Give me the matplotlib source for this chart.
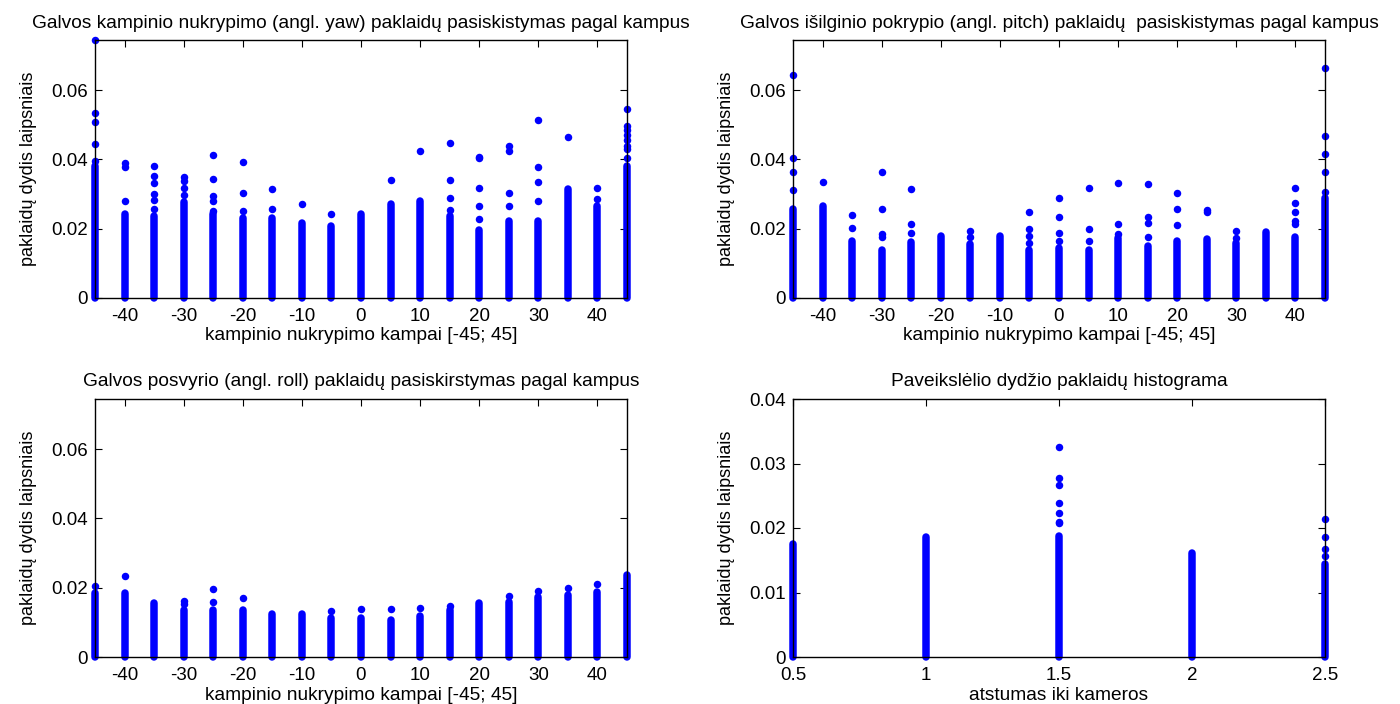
import numpy as np
import matplotlib
matplotlib.use('Agg')
from matplotlib import pyplot as plt

plt.rcParams['font.family'] = ['Liberation Sans', 'DejaVu Sans']

# angle categories for yaw / pitch / roll
angles = [-45, -40, -35, -30, -25, -20, -15, -10, -5, 0, 5, 10, 15, 20, 25, 30, 35, 40, 45]

# yaw: top of the dense cloud at each angle + separate larger errors
yaw_top = [0.0380, 0.0242, 0.0237, 0.0276, 0.0242, 0.0232, 0.0232, 0.0218, 0.0208, 0.0242,
           0.0271, 0.0279, 0.0237, 0.0196, 0.0223, 0.0223, 0.0315, 0.0266, 0.0380]
yaw_outliers = [
    [0.0395, 0.0445, 0.0508, 0.0534, 0.0745],
    [0.0279, 0.0377, 0.0389],
    [0.0256, 0.0283, 0.0300, 0.0331, 0.0351, 0.0381],
    [0.0298, 0.0318, 0.0337, 0.0350],
    [0.0252, 0.0279, 0.0295, 0.0344, 0.0412],
    [0.0252, 0.0303, 0.0392],
    [0.0258, 0.0315],
    [0.0271],
    [0.0242],
    [],
    [0.0340],
    [0.0425],
    [0.0255, 0.0290, 0.0340, 0.0449],
    [0.0227, 0.0266, 0.0319, 0.0404, 0.0408],
    [0.0266, 0.0303, 0.0425, 0.0440],
    [0.0279, 0.0335, 0.0379, 0.0513],
    [0.0465],
    [0.0287, 0.0319],
    [0.0404, 0.0430, 0.0440, 0.0455, 0.0470, 0.0485, 0.0497, 0.0545],
]

# pitch
pitch_top = [0.0256, 0.0266, 0.0166, 0.0140, 0.0163, 0.0179, 0.0155, 0.0179, 0.0140, 0.0145,
             0.0140, 0.0174, 0.0150, 0.0165, 0.0169, 0.0160, 0.0191, 0.0176, 0.0290]
pitch_outliers = [
    [0.0312, 0.0364, 0.0405, 0.0644],
    [0.0336],
    [0.0203, 0.0239],
    [0.0177, 0.0184, 0.0258, 0.0364],
    [0.0189, 0.0215, 0.0315],
    [],
    [0.0177, 0.0194],
    [],
    [0.0160, 0.0179, 0.0198, 0.0247],
    [0.0165, 0.0189, 0.0234, 0.0290],
    [0.0165, 0.0200, 0.0319],
    [0.0184, 0.0213, 0.0332],
    [0.0177, 0.0218, 0.0234, 0.0328],
    [0.0210, 0.0258, 0.0303],
    [0.0247, 0.0255],
    [0.0174, 0.0194],
    [],
    [0.0213, 0.0223, 0.0247, 0.0275, 0.0319],
    [0.0307, 0.0364, 0.0416, 0.0469, 0.0665],
]

# roll
roll_top = [0.0184, 0.0184, 0.0155, 0.0136, 0.0136, 0.0136, 0.0123, 0.0123, 0.0114, 0.0114,
            0.0107, 0.0117, 0.0136, 0.0155, 0.0160, 0.0174, 0.0179, 0.0189, 0.0236]
roll_outliers = [
    [0.0205], [0.0234], [], [0.0152, 0.0162], [0.0158, 0.0195], [0.0171], [], [],
    [0.0134], [0.0138], [0.0138], [0.0142], [0.0147], [], [0.0177], [0.0190],
    [0.0198], [0.0212], [],
]

# image size error vs distance to camera
distances = [0.5, 1, 1.5, 2, 2.5]
size_top = [0.0175, 0.0186, 0.0188, 0.0162, 0.0144]
size_outliers = [[], [], [0.0208, 0.0210, 0.0224, 0.0239, 0.0267, 0.0278, 0.0325], [],
                 [0.0157, 0.0168, 0.0186, 0.0214]]

angle_xlabel = 'kampinio nukrypimo kampai [-45; 45]'
ylabel = 'paklaidų dydis laipsniais'
titles = ['Galvos kampinio nukrypimo (angl. yaw) paklaidų pasiskistymas pagal kampus',
          'Galvos išilginio pokrypio (angl. pitch) paklaidų  pasiskistymas pagal kampus',
          'Galvos posvyrio (angl. roll) paklaidų pasiskirstymas pagal kampus',
          'Paveikslėlio dydžio paklaidų histograma']

BLUE = '#0000ff'
DOT = 5.4  # marker diameter in points


def fmt(v):
    return '%g' % round(v, 6)


def draw_errors(ax, xs, tops, outliers):
    for x, top, extra in zip(xs, tops, outliers):
        # dense cloud of points from zero up to 'top'
        ax.plot([x, x], [0, top], color=BLUE, lw=DOT, solid_capstyle='round', clip_on=False)
        if extra:
            ax.plot([x] * len(extra), extra, 'o', color=BLUE, ms=DOT, mec='none', clip_on=False)


def style(ax, title, xlabel, xticks, yticks, xlim, ylim):
    ax.set_xlim(*xlim)
    ax.set_ylim(*ylim)
    ax.set_xticks(xticks)
    ax.set_xticklabels([fmt(t) for t in xticks])
    ax.set_yticks(yticks)
    ax.set_yticklabels([fmt(t) for t in yticks])
    ax.tick_params(direction='in', top=True, right=True, length=5, width=0.8,
                   labelsize=13.5)
    ax.tick_params(axis='x', pad=7)
    ax.tick_params(axis='y', pad=5)
    for s in ax.spines.values():
        s.set_linewidth(1.0)
    ax.set_title(title, fontsize=13.8, pad=9)
    ax.set_xlabel(xlabel, fontsize=13.8, labelpad=2)
    ax.set_ylabel(ylabel, fontsize=13, labelpad=10)


fig = plt.figure(figsize=(14, 7.04), dpi=100)
W, H = 1400, 704
boxes = [(95, 40), (793, 40), (95, 399), (793, 399)]
axes = [fig.add_axes([l / W, 1 - (t + 258) / H, 532 / W, 258 / H]) for l, t in boxes]

angle_ticks = [-40, -30, -20, -10, 0, 10, 20, 30, 40]
angle_yticks = [0, 0.02, 0.04, 0.06]
ytop = 0.0745

draw_errors(axes[0], angles, yaw_top, yaw_outliers)
style(axes[0], titles[0], angle_xlabel, angle_ticks, angle_yticks, (-45, 45), (0, ytop))

draw_errors(axes[1], angles, pitch_top, pitch_outliers)
style(axes[1], titles[1], angle_xlabel, angle_ticks, angle_yticks, (-45, 45), (0, ytop))

draw_errors(axes[2], angles, roll_top, roll_outliers)
style(axes[2], titles[2], angle_xlabel, angle_ticks, angle_yticks, (-45, 45), (0, ytop))

draw_errors(axes[3], distances, size_top, size_outliers)
style(axes[3], titles[3], 'atstumas iki kameros', distances, [0, 0.01, 0.02, 0.03, 0.04],
      (0.5, 2.5), (0, 0.04))

fig.savefig('out.png', dpi=100, facecolor='white')
